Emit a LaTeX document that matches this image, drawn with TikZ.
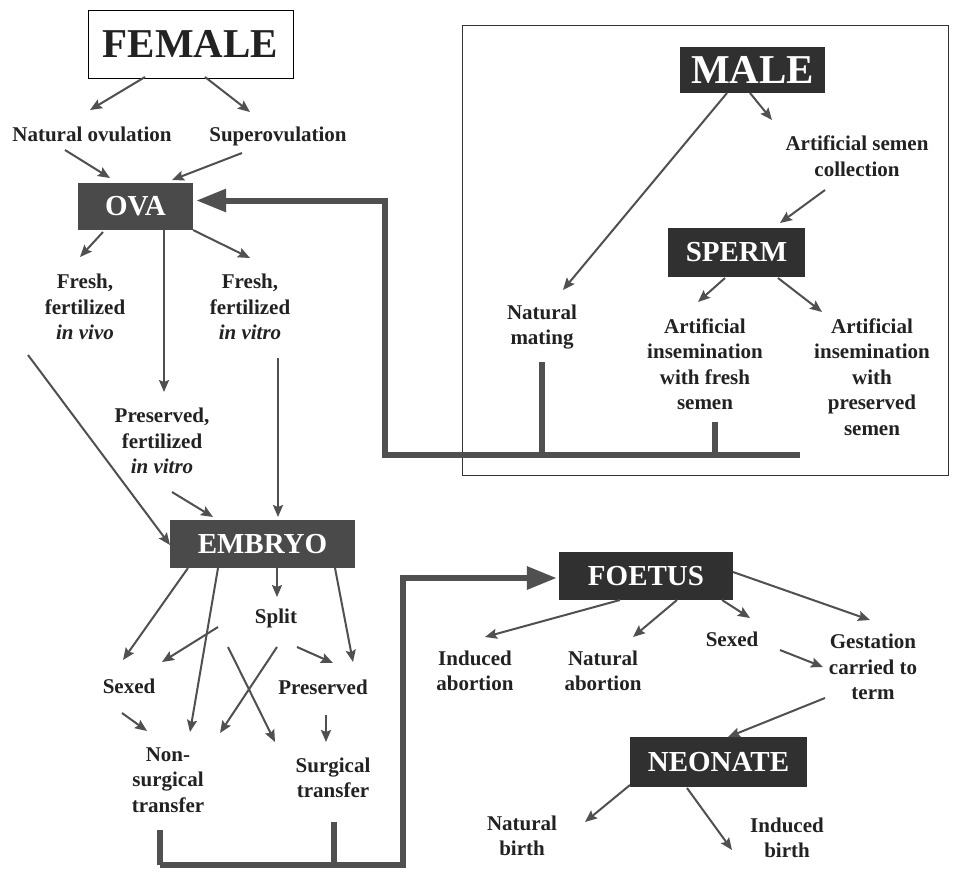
\documentclass[tikz,border=0pt]{standalone}
\usepackage{fontspec}
\setmainfont{Liberation Serif}
\usetikzlibrary{arrows.meta,calc}
\definecolor{ink}{HTML}{222222}
\definecolor{arrowgray}{HTML}{505050}
\definecolor{boxdark}{HTML}{303030}
\definecolor{boxmid}{HTML}{4A4A4A}
\begin{document}
\begin{tikzpicture}[x=1pt,y=-1pt,
  lbl/.style={text=ink, font=\bfseries\fontsize{21}{25.5}\selectfont, align=center, inner sep=0pt},
  darkbox/.style={fill=boxdark, text=white, inner sep=0pt, font=\bfseries\fontsize{29}{32}\selectfont},
  midbox/.style={darkbox, fill=boxmid},
  bigbox/.style={font=\bfseries\fontsize{41}{45}\selectfont},
  arr/.style={draw=arrowgray, line width=2pt, -{Stealth[length=12pt,width=10pt,inset=2pt]}},
  fat/.style={draw=arrowgray, line width=6pt, line join=miter},
  fatarr/.style={fat, -{Triangle[length=30pt,width=22pt]}}]
\useasboundingbox (0,0) rectangle (954,871);
\fill[white] (0,0) rectangle (954,871);

% male frame
\draw[line width=1pt, black!80] (462,25) rectangle (948,475);

% nodes
\node[draw=black, line width=1pt, fill=white, text=ink, minimum width=205pt, minimum height=68pt, inner sep=0pt, bigbox] (female) at (190.5,44) {FEMALE};
\node[lbl] (natov) at (92,134) {Natural ovulation};
\node[lbl] (superov) at (278,136) {Superovulation};
\node[midbox, minimum width=115pt, minimum height=47pt] (ova) at (135.5,206.5) {OVA};
\node[lbl] (frvivo) at (85,307) {Fresh,\\fertilized\\\textit{in vivo}};
\node[lbl] (frvitro) at (250,307) {Fresh,\\fertilized\\\textit{in vitro}};
\node[lbl] (presvitro) at (162,441) {Preserved,\\fertilized\\\textit{in vitro}};
\node[midbox, minimum width=185pt, minimum height=48pt] (embryo) at (262.5,544) {EMBRYO};
\node[lbl] (split) at (276,618) {Split};
\node[lbl] (sexedE) at (129,686) {Sexed};
\node[lbl] (presE) at (323,687) {Preserved};
\node[lbl] (nonsurg) at (168,780) {Non-\\surgical\\transfer};
\node[lbl] (surg) at (333,778) {Surgical\\transfer};

\node[darkbox, bigbox, minimum width=145pt, minimum height=46pt] (male) at (752.5,70) {MALE};
\node[lbl] (artcoll) at (857,156) {Artificial semen\\collection};
\node[darkbox, minimum width=137pt, minimum height=49pt] (sperm) at (736.5,252.5) {SPERM};
\node[lbl] (natmating) at (542,327) {Natural\\mating};
\node[lbl] (aifresh) at (705,364) {Artificial\\insemination\\with fresh\\semen};
\node[lbl] (aipres) at (872,377) {Artificial\\insemination\\with\\preserved\\semen};

\node[darkbox, minimum width=174pt, minimum height=48pt] (foetus) at (646,576) {FOETUS};
\node[lbl] (indabort) at (475,671) {Induced\\abortion};
\node[lbl] (natabort) at (603,671) {Natural\\abortion};
\node[lbl] (sexedF) at (732,639) {Sexed};
\node[lbl] (gestation) at (873,667) {Gestation\\carried to\\term};
\node[darkbox, minimum width=177pt, minimum height=50pt] (neonate) at (718.5,762) {NEONATE};
\node[lbl] (natbirth) at (522,836) {Natural\\birth};
\node[lbl] (indbirth) at (787,838) {Induced\\birth};

% thin arrows
\draw[arr] ($(female)+(-45.5,33)$) -- ($(natov)+(-2,-24)$);
\draw[arr] ($(female)+(14.5,33)$) -- ($(superov)+(-28,-24)$);
\draw[arr] ($(natov)+(-27,16)$) -- ($(ova)+(-25.5,-28.5)$);
\draw[arr] ($(superov)+(-36,17)$) -- ($(ova)+(36.5,-26.5)$);
\draw[arr] ($(ova)+(-32.5,25.5)$) -- ($(frvivo)+(-5,-50)$);
\draw[arr] ($(ova)+(28.5,23.5)$) -- ($(presvitro)+(2,-49)$);
\draw[arr] ($(ova)+(57.5,23.5)$) -- ($(frvitro)+(0,-49)$);
\draw[arr] ($(frvivo)+(-57,48)$) -- ($(embryo)+(-92.5,1)$);
\draw[arr] ($(frvitro)+(28,51)$) -- ($(embryo)+(15.5,-27)$);
\draw[arr] ($(presvitro)+(10,51)$) -- ($(embryo)+(-49.5,-27)$);
\draw[arr] ($(embryo)+(-74.5,24)$) -- ($(sexedE)+(-6,-26)$);
\draw[arr] ($(embryo)+(-44.5,24)$) -- ($(nonsurg)+(22,-48)$);
\draw[arr] ($(embryo)+(14.5,24)$) -- ($(split)+(1,-21)$);
\draw[arr] ($(embryo)+(72.5,24)$) -- ($(presE)+(30,-25)$);
\draw[arr] ($(split)+(-58,9)$) -- ($(sexedE)+(33,-24)$);
\draw[arr] ($(split)+(1,29)$) -- ($(nonsurg)+(52,-47)$);
\draw[arr] ($(split)+(-48,29)$) -- ($(surg)+(-58,-36)$);
\draw[arr] ($(split)+(21,29)$) -- ($(presE)+(10,-24)$);
\draw[arr] ($(sexedE)+(-7,27)$) -- ($(nonsurg)+(-21,-49)$);
\draw[arr] ($(presE)+(3,28)$) -- ($(surg)+(-7,-36)$);

\draw[arr] ($(male)+(-25.5,23)$) -- ($(natmating)+(21,-37)$);
\draw[arr] ($(male)+(-2.5,23)$) -- ($(artcoll)+(-85,-36)$);
\draw[arr] ($(artcoll)+(-32,34)$) -- ($(sperm)+(43.5,-29.5)$);
\draw[arr] ($(sperm)+(-11.5,25.5)$) -- ($(aifresh)+(-7,-62)$);
\draw[arr] ($(sperm)+(41.5,25.5)$) -- ($(aipres)+(-50,-65)$);

\draw[arr] ($(foetus)+(-26,24)$) -- ($(indabort)+(10,-34)$);
\draw[arr] ($(foetus)+(31,24)$) -- ($(natabort)+(30,-34)$);
\draw[arr] ($(foetus)+(76,24)$) -- ($(sexedF)+(18,-21)$);
\draw[arr] ($(foetus)+(87,-4)$) -- ($(gestation)+(-3,-47)$);
\draw[arr] ($(sexedF)+(48,11)$) -- ($(gestation)+(-50,0)$);
\draw[arr] ($(gestation)+(-48,31)$) -- ($(neonate)+(9.5,-25)$);
\draw[arr] ($(neonate)+(-88.5,23)$) -- ($(natbirth)+(63,-14)$);
\draw[arr] ($(neonate)+(-31.5,26)$) -- ($(indbirth)+(-55,12)$);

% thick feedback lines
\coordinate (fbend) at (800,455);
\draw[fat] ($(natmating)+(0,35)$) -- ($(natmating)+(0,128)$);
\draw[fat] ($(aifresh)+(10,58)$) -- ($(aifresh)+(10,91)$);
\draw[fatarr] (fbend) -- (385,455) -- (385,200.5) -- ($(ova.east)+(3,-6)$);

\draw[fat] ($(nonsurg)+(-8,50)$) -- ($(nonsurg)+(-8,85)$);
\draw[fat] ($(surg)+(1,44)$) -- ($(surg)+(1,87)$);
\draw[fatarr] ($(nonsurg)+(-8,85)$) -- (403,865) -- (403,578) -- ($(foetus.west)+(-2,2)$);
\end{tikzpicture}
\end{document}
